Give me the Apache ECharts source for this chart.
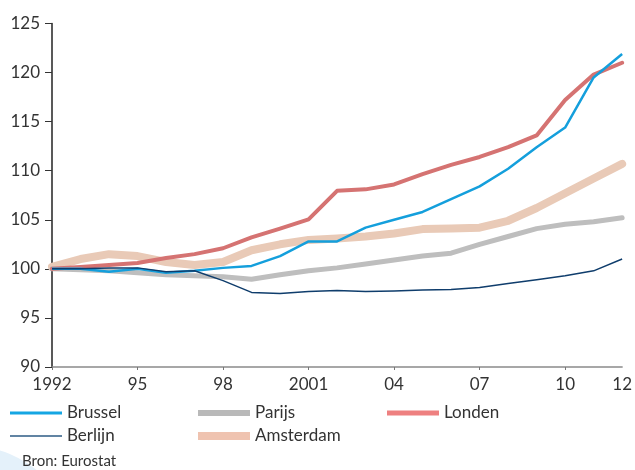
<!DOCTYPE html>
<html>
<head>
<meta charset="utf-8">
<script src="https://cdn.jsdelivr.net/npm/echarts@6/dist/echarts.min.js"></script>
<style>
  html, body { margin: 0; padding: 0; background: #fff; }
  #chart { width: 635px; height: 470px; }
</style>
</head>
<body>
<div id="chart"></div>
<script>
const years = ['1992', '1993', '1994', '1995', '1996', '1997', '1998', '1999', '2000', '2001', '2002',
  '2003', '2004', '2005', '2006', '2007', '2008', '2009', '2010', '2011', '2012']
// labels shown under the axis
const yearLabels = { 1992: '1992', 1995: '95', 1998: '98', 2001: '2001', 2004: '04', 2007: '07', 2010: '10', 2012: '12' }

const brussel = [100, 100, 99.7, 100, 99.6, 99.8, 100.1, 100.3, 101.3, 102.8, 102.8,
  104.2, 105.0, 105.8, 107.1, 108.4, 110.2, 112.4, 114.4, 119.5, 121.9]
const berlijn = [100, 100, 100.1, 100.1, 99.7, 99.8, 98.8, 97.6, 97.5, 97.7, 97.8,
  97.7, 97.75, 97.85, 97.9, 98.1, 98.5, 98.9, 99.3, 99.8, 101.0]
const parijs = [100, 99.9, 99.8, 99.6, 99.4, 99.3, 99.2, 98.95, 99.4, 99.8, 100.1,
  100.5, 100.9, 101.3, 101.6, 102.5, 103.3, 104.1, 104.55, 104.8, 105.2]
const londen = [100, 100.2, 100.4, 100.6, 101.1, 101.5, 102.1, 103.2, 104.1, 105.05, 107.95,
  108.1, 108.6, 109.65, 110.6, 111.4, 112.4, 113.6, 117.2, 119.8, 121.0]
const amsterdam = [100.2, 101.0, 101.5, 101.3, 100.7, 100.4, 100.7, 101.9, 102.5, 102.95, 103.1,
  103.3, 103.6, 104.05, 104.1, 104.2, 104.9, 106.2, 107.7, 109.2, 110.7]

const FONT = 'Lato'
const TXT = '#333'

const chart = echarts.init(document.getElementById('chart'))

// one legend per entry so they sit in fixed columns; the icon is a flat bar as thick as the line
function legendAt(name, left, top, thick, color) {
  return {
    data: [name],
    left: left,
    top: top,
    padding: 0,
    icon: 'rect',
    itemWidth: 52,
    itemHeight: thick,
    itemGap: 0,
    selectedMode: false,
    itemStyle: { color: color },
    textStyle: { fontFamily: FONT, fontSize: 17, color: TXT, lineHeight: 18 }
  }
}

const option = {
  animation: false,
  backgroundColor: '#fff',
  grid: { left: 52, right: 8, top: 23.5, bottom: 103 },
  graphic: [
    {
      type: 'circle',
      z: -10,
      shape: { cx: -30, cy: 550, r: 104 },
      style: { fill: '#e4f1fa' },
      silent: true
    },
    {
      type: 'text',
      left: 22,
      top: 454,
      style: { text: 'Bron: Eurostat', fontFamily: FONT, fontSize: 15, fill: TXT }
    }
  ],
  legend: [
    legendAt('Brussel', 10, 404, 3, '#15a6e3'),
    legendAt('Parijs', 198, 404, 6, '#b9b9b9'),
    legendAt('Londen', 387, 404, 5, '#ee8080'),
    legendAt('Berlijn', 10, 427, 1.5, '#2c5b85'),
    legendAt('Amsterdam', 198, 427, 8, '#efc3b0')
  ],
  xAxis: {
    type: 'category',
    data: years,
    boundaryGap: false,
    axisLine: { lineStyle: { color: '#8a8a8a', width: 1.5 } },
    axisTick: {
      show: true,
      length: 3,
      lineStyle: { color: '#777' },
      interval: (i, v) => (+v - 1992) % 3 === 0 && +v < 2012
    },
    axisLabel: {
      interval: (i, v) => yearLabels[v] !== undefined,
      formatter: (v) => yearLabels[v],
      margin: 9,
      fontFamily: FONT,
      fontSize: 17,
      color: TXT
    }
  },
  yAxis: {
    type: 'value',
    min: 90,
    max: 125,
    interval: 5,
    axisLine: { show: true, lineStyle: { color: '#222', width: 1.5 } },
    axisTick: { show: true, length: 7, lineStyle: { color: '#333' } },
    splitLine: { show: false },
    axisLabel: { margin: 12, fontFamily: FONT, fontSize: 17, color: TXT }
  },
  series: [
    {
      name: 'Amsterdam', type: 'line', data: amsterdam, symbol: 'none',
      itemStyle: { color: '#e9cab7' },
      lineStyle: { color: '#e9cab7', width: 8, cap: 'round', join: 'round' }
    },
    {
      name: 'Parijs', type: 'line', data: parijs, symbol: 'none',
      itemStyle: { color: '#bebebe' },
      lineStyle: { color: '#bebebe', width: 5, cap: 'round', join: 'round' }
    },
    {
      name: 'Londen', type: 'line', data: londen, symbol: 'none',
      itemStyle: { color: '#d57372' },
      lineStyle: { color: '#d57372', width: 4, cap: 'round', join: 'round' }
    },
    {
      name: 'Brussel', type: 'line', data: brussel, symbol: 'none',
      itemStyle: { color: '#149fdc' },
      lineStyle: { color: '#149fdc', width: 2.5, join: 'round' }
    },
    {
      name: 'Berlijn', type: 'line', data: berlijn, symbol: 'none',
      itemStyle: { color: '#0f3d6c' },
      lineStyle: { color: '#0f3d6c', width: 1.5, join: 'round' }
    }
  ]
}

chart.setOption(option)
</script>
</body>
</html>
